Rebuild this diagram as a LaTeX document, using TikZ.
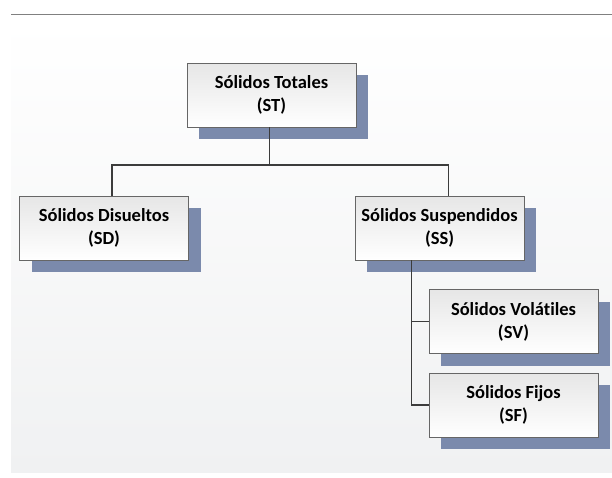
\documentclass[tikz,border=0pt]{standalone}
\usepackage{fontspec}
\setmainfont{Carlito}[Ligatures=NoCommon]
\usepackage{tikz}
\usetikzlibrary{shadows}
\usepackage{xcolor}
\definecolor{shadowBlue}{RGB}{123, 138, 172}
\definecolor{boxGray}{RGB}{230, 230, 230}
\definecolor{panelGray}{RGB}{240, 241, 242}
\definecolor{lineGray}{RGB}{60, 60, 60}

\begin{document}
\begin{tikzpicture}[x=1pt, y=-1pt,
    solidbox/.style={draw=gray!80!black, rectangle, top color=boxGray, bottom color=white,
        minimum width=169pt, minimum height=64pt, align=center,
        font=\fontsize{18.5}{23}\selectfont\bfseries,
        drop shadow={shadow xshift=12pt, shadow yshift=-12pt, fill=shadowBlue, opacity=1}},
    link/.style={draw=lineGray, line width=1.6pt}]
                \useasboundingbox (0,0) rectangle (612,477);
                \fill[top color=white, bottom color=panelGray] (11,20) rectangle (612,472);
                \draw[gray, line width=1pt] (11,14) -- (612,14);
                \node[solidbox] (st) at (271.5,95) {Sólidos Totales\\(ST)};
                \node[solidbox] (sd) at (104,228) {Sólidos Disueltos\\(SD)};
                \node[solidbox] (ss) at (439.5,228) {Sólidos Suspendidos\\(SS)};
                \node[solidbox] (sv) at (513.5,321.5) {Sólidos Volátiles\\(SV)};
                \node[solidbox] (sf) at (513.5,405) {Sólidos Fijos\\(SF)};
                \coordinate (bus) at ([xshift=-2pt, yshift=-38pt]st.south);
                \coordinate (branch) at ([xshift=-28pt]ss.south);
                \draw[link] ([xshift=-2pt]st.south) -- (bus);
                \draw[link] (bus) -| ([xshift=8pt]sd.north);
                \draw[link] (bus) -| ([xshift=9pt]ss.north);
                \draw[link] (branch) |- (sv.west);
                \draw[link] (branch) |- (sf.west);
            \end{tikzpicture}
\end{document}
